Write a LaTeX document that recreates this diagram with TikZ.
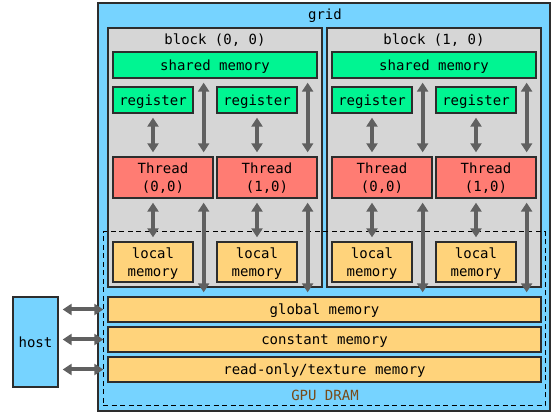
\documentclass[tikz,border=0pt]{standalone}
\usepackage{fontspec}
\setmonofont{DejaVu Sans Mono}
\usetikzlibrary{arrows.meta,calc}
\definecolor{gridblue}{RGB}{118,211,255}
\definecolor{blockgrey}{RGB}{214,214,214}
\definecolor{memgreen}{RGB}{0,245,146}
\definecolor{thrred}{RGB}{255,124,115}
\definecolor{memorange}{RGB}{255,211,123}
\definecolor{edge}{RGB}{45,45,45}
\definecolor{arrgrey}{RGB}{96,96,96}
\definecolor{dramtext}{RGB}{120,75,25}
\tikzset{
  box/.style={draw=edge, line width=1.3pt, inner sep=0pt, text depth=0pt, font=\ttfamily\fontsize{14}{18}\selectfont, align=center},
  gridbox/.style={box, fill=gridblue},
  blockbox/.style={box, fill=blockgrey},
  greenbox/.style={box, fill=memgreen},
  threadbox/.style={box, fill=thrred, minimum width=100pt, minimum height=41pt},
  orangebox/.style={box, fill=memorange},
  lbl/.style={inner sep=0pt, font=\ttfamily\fontsize{14}{18}\selectfont},
  arr/.style={draw=arrgrey, line width=4pt, {Triangle[width=11pt,length=9pt]}-{Triangle[width=11pt,length=9pt]}, shorten >=4pt, shorten <=4pt},
  dram/.style={draw=black, dash pattern=on 5pt off 3.5pt, line width=1pt, inner sep=0pt}
}
\begin{document}
\begin{tikzpicture}[x=1pt,y=-1pt]
\useasboundingbox (0,0) rectangle (558,417);
% grid
\node[gridbox, minimum width=452pt, minimum height=408pt] (grid) at (324,207) {};
\node[lbl] (gridlbl) at (325,16) {grid};
% blocks
\foreach \b/\dx in {0/0,1/219}{
  \node[blockbox, minimum width=214pt, minimum height=259pt] (blk\b) at (215+\dx,157.5) {};
  \node[lbl] (blklbl\b) at (215+\dx,40) {block (\b, 0)};
  \node[greenbox, minimum width=204pt, minimum height=26pt] (sm\b) at (215+\dx,65) {shared memory};
  \node[greenbox, minimum width=80pt, minimum height=26pt] (r\b0) at (153+\dx,100) {register};
  \node[greenbox, minimum width=80pt, minimum height=26pt] (r\b1) at (257+\dx,100) {register};
  \node[threadbox] (t\b0) at (163+\dx,177.5) {Thread\\(0,0)};
  \node[threadbox] (t\b1) at (267+\dx,177.5) {Thread\\(1,0)};
  \node[orangebox, minimum width=80pt, minimum height=40pt] (l\b0) at (153+\dx,262) {local\\memory};
  \node[orangebox, minimum width=80pt, minimum height=40pt] (l\b1) at (257+\dx,262) {local\\memory};
}
% global memories
\node[orangebox, minimum width=433pt, minimum height=25pt] (glob) at (324.5,309.5) {global memory};
\node[orangebox, minimum width=433pt, minimum height=25pt] (const) at (324.5,339.5) {constant memory};
\node[orangebox, minimum width=433pt, minimum height=25pt] (tex) at (324.5,369.5) {read-only/texture memory};
% host
\node[gridbox, minimum width=45pt, minimum height=90pt] (host) at (35.5,342) {host};
% GPU DRAM
\node[dram, minimum width=442pt, minimum height=174pt] (dramarea) at (324,319) {};
\node[lbl, text=dramtext] (dramlbl) at (325,395) {GPU DRAM};
% arrows inside blocks
\foreach \b in {0,1}{
  \foreach \t in {0,1}{
    \draw[arr] (r\b\t.south) -- (r\b\t.south |- t\b\t.north);
    \draw[arr] ([xshift=-10pt]t\b\t.north east) -- ([xshift=-10pt]t\b\t.north east |- sm\b.south);
    \draw[arr] (l\b\t.north |- t\b\t.south) -- (l\b\t.north);
    \draw[arr] ([xshift=-10pt]t\b\t.south east) -- ([xshift=-10pt]t\b\t.south east |- glob.north);
  }
}
% host arrows
\foreach \m in {glob,const,tex}{
  \draw[arr] (host.east |- \m.west) -- (\m.west);
}
\end{tikzpicture}
\end{document}
